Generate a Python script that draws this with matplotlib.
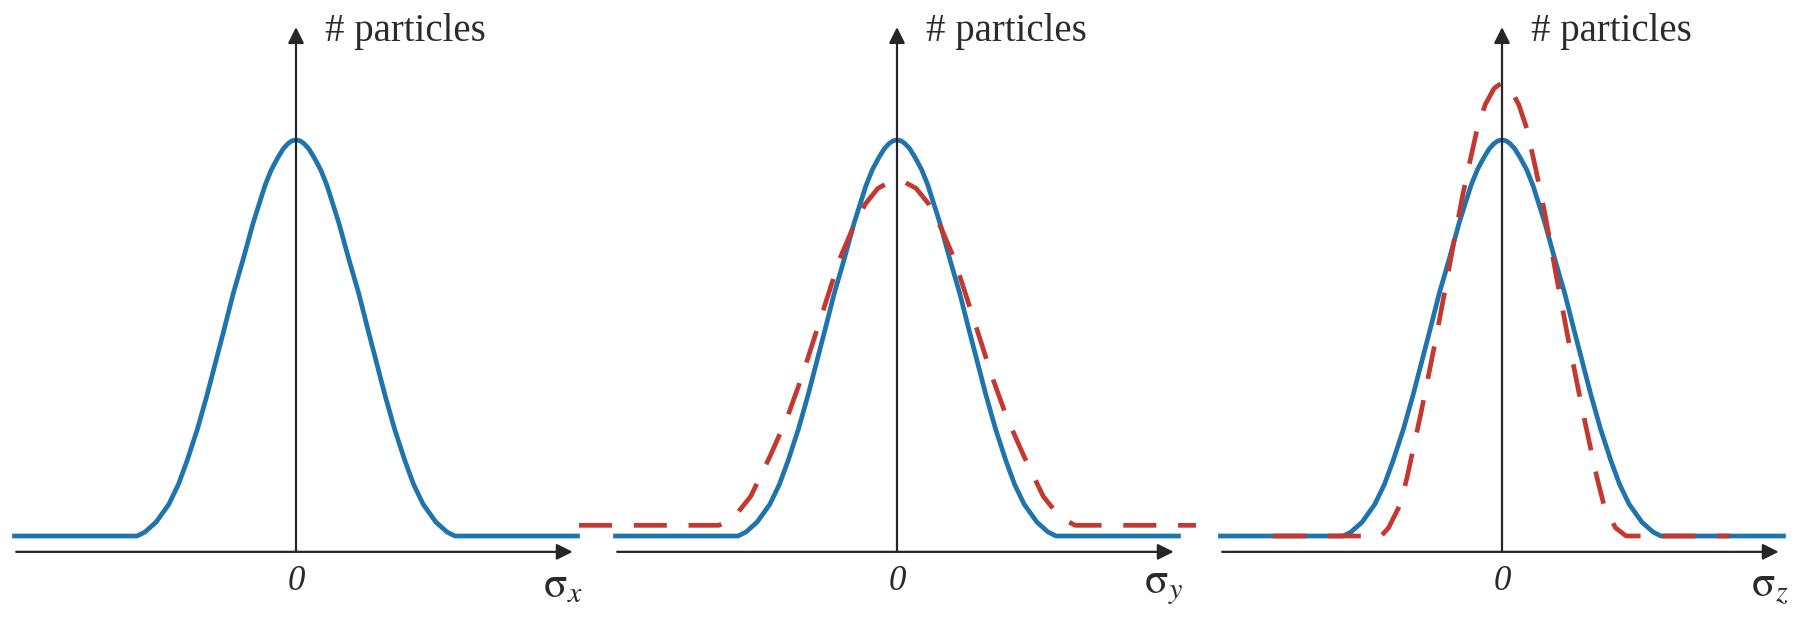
import matplotlib.pyplot as plt

plt.rcParams['font.family'] = 'Liberation Serif'
plt.rcParams['mathtext.fontset'] = 'stix'

# beam profile before (blue, same in all three planes)
blue_x = [-1.785, -1.0, -0.95, -0.88, -0.80, -0.74, -0.685, -0.62, -0.56, -0.505,
          -0.45, -0.395, -0.335, -0.27, -0.195, -0.155, -0.115, -0.08, -0.05, -0.025,
          0.0, 0.025, 0.05, 0.08, 0.115, 0.155, 0.195, 0.27, 0.335, 0.395, 0.45,
          0.505, 0.56, 0.62, 0.685, 0.74, 0.80, 0.88, 0.95, 1.0, 1.785]
blue_y = [0.0, 0.0, 0.01, 0.035, 0.08, 0.13, 0.19, 0.27, 0.355, 0.44,
          0.525, 0.612, 0.695, 0.79, 0.885, 0.925, 0.955, 0.978, 0.991, 0.998,
          1.0, 0.998, 0.991, 0.978, 0.955, 0.925, 0.885, 0.79, 0.695, 0.612, 0.525,
          0.44, 0.355, 0.27, 0.19, 0.13, 0.08, 0.035, 0.01, 0.0, 0.0]

# profile after, y plane: lower and wider
red_y_x = [-2.0, -1.12, -1.06, -1.0, -0.92, -0.80, -0.69, -0.60, -0.52, -0.44, -0.36,
           -0.275, -0.2, -0.12, -0.05, 0.0, 0.05, 0.12, 0.2, 0.275, 0.36, 0.44,
           0.52, 0.60, 0.69, 0.80, 0.92, 1.0, 1.06, 1.12, 1.88]
red_y_y = [0.027, 0.027, 0.04, 0.06, 0.1, 0.2, 0.3, 0.4, 0.5, 0.6, 0.7,
           0.78, 0.838, 0.878, 0.893, 0.895, 0.893, 0.878, 0.838, 0.78, 0.7, 0.6,
           0.5, 0.4, 0.3, 0.2, 0.1, 0.06, 0.04, 0.027, 0.027]

# profile after, z plane: taller and narrower
red_z_x = [-1.44, -0.76, -0.713, -0.64, -0.597, -0.556, -0.51, -0.465, -0.42, -0.38,
           -0.34, -0.295, -0.25, -0.205, -0.155, -0.105, -0.05, 0.0, 0.05, 0.105,
           0.155, 0.205, 0.25, 0.295, 0.34, 0.38, 0.42, 0.465, 0.51, 0.556, 0.597,
           0.64, 0.713, 0.78, 1.43]
red_z_y = [0.0, 0.0, 0.021, 0.08, 0.148, 0.224, 0.31, 0.4, 0.49, 0.575,
           0.66, 0.76, 0.855, 0.94, 1.03, 1.09, 1.13, 1.145, 1.13, 1.09,
           1.03, 0.94, 0.855, 0.76, 0.66, 0.575, 0.49, 0.4, 0.31, 0.224, 0.148,
           0.08, 0.021, 0.0, 0.0]

planes = ['x', 'y', 'z']
red_curves = [None, (red_y_x, red_y_y), (red_z_x, red_z_y)]
centers_px = [296, 897, 1502]

W, H = 1804, 619
BLUE = '#1f74ad'
RED = '#c4392f'
AXC = '#262626'
TXT = '#2b2b2b'
unit_px = 159.0
half_span = 1.9
ylo, yhi = -0.2096, 1.3535

fig = plt.figure(figsize=(W / 100, H / 100), dpi=100)

for plane, red, cx in zip(planes, red_curves, centers_px):
    left = (cx - half_span * unit_px) / W
    ax = fig.add_axes([left, 0, 2 * half_span * unit_px / W, 1])
    ax.set_xlim(-half_span, half_span)
    ax.set_ylim(ylo, yhi)
    ax.axis('off')

    ax.plot(blue_x, blue_y, color=BLUE, lw=3.4, solid_capstyle='butt',
            solid_joinstyle='round', clip_on=False, zorder=2)
    if red is not None:
        ax.plot(red[0], red[1], color=RED, lw=3.4, dashes=(7.0, 4.6),
                dash_capstyle='butt', dash_joinstyle='round', clip_on=False,
                zorder=3)

    # axes with arrow heads
    ax.annotate('', xy=(1.74, -0.04), xytext=(-1.76, -0.04),
                arrowprops=dict(arrowstyle='-|>', color=AXC, lw=1.6,
                                mutation_scale=24, shrinkA=0, shrinkB=0),
                zorder=4)
    ax.annotate('', xy=(0, 1.285), xytext=(0, -0.04),
                arrowprops=dict(arrowstyle='-|>', color=AXC, lw=1.6,
                                mutation_scale=24, shrinkA=0, shrinkB=0),
                zorder=4)

    ax.text(0.18, 1.273, '# particles', fontsize=28, color=TXT,
            ha='left', va='center')
    ax.text(0, -0.115, '0', fontsize=25, style='italic', color=TXT,
            ha='center', va='center')
    ax.text(1.80, -0.13, r'$\mathrm{\sigma}_{%s}$' % plane, fontsize=31,
            color=TXT, ha='right', va='center')

fig.savefig('out.png', dpi=100)
